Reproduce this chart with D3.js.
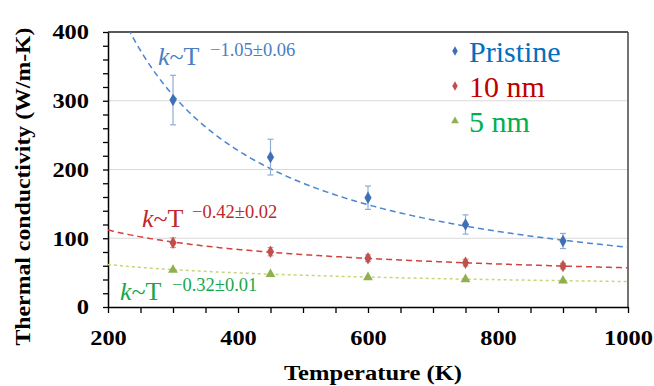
<!DOCTYPE html>
<html>
<head>
<meta charset="utf-8">
<script src="https://cdn.jsdelivr.net/npm/d3@7"></script>
<style>
  body { margin: 0; background: #fff; }
  svg text { font-family: "Liberation Serif", "DejaVu Serif", serif !important; }
  .tick text { font-weight: bold; font-size: 21px; fill: #000; }
</style>
</head>
<body>
<div id="chart"></div>
<script>

// measured temperatures (K)
var temps = [300, 450, 600, 750, 900];

// thermal conductivity values + error bars
var pristine = [301, 218, 159, 120, 96];
var pristineErr = [36, 26, 17, 14, 11];
var nm10 = [93.5, 80.5, 71, 64.5, 59.5];
var nm10Err = [7, 6, 5, 5, 4];
var nm5 = [53.8, 47.6, 43.2, 40.3, 38.3];

// power law fits  k = k1000 * (T/1000)^-p
var fitNames = ["Pristine", "10 nm", "5 nm"];
var fitExponents = [1.05, 0.42, 0.32];
var fitAt1000 = [87, 57, 37];
var fitLabels = ["\u22121.05\u00b10.06", "\u22120.42\u00b10.02", "\u22120.32\u00b10.01"];

var xTicks = [200, 400, 600, 800, 1000];
var yTicks = [0, 100, 200, 300, 400];

var SERIF = "'Liberation Serif', 'DejaVu Serif', serif";

var W = 654, H = 386;
var margin = {top: 32, right: 26, bottom: 79, left: 108};
var width = W - margin.left - margin.right,
    height = H - margin.top - margin.bottom;

var svg = d3.select("#chart").append("svg")
    .attr("width", W)
    .attr("height", H);

var g = svg.append("g")
    .attr("transform", "translate(" + margin.left + "," + margin.top + ")");

var x = d3.scaleLinear().domain([200, 1000]).range([0, width]);
var y = d3.scaleLinear().domain([0, 400]).range([height, 0]);

// gridlines
g.selectAll(".grid")
    .data([100, 200, 300])
    .enter().append("line")
    .attr("class", "grid")
    .attr("x1", 0).attr("x2", width)
    .attr("y1", function(d){ return y(d); })
    .attr("y2", function(d){ return y(d); })
    .attr("stroke", "#d9d9d9")
    .attr("stroke-width", 1);

// frame top + right
g.append("line").attr("x1", 0).attr("x2", width).attr("y1", 0).attr("y2", 0)
    .attr("stroke", "#222").attr("stroke-width", 1.5);
g.append("line").attr("x1", width).attr("x2", width).attr("y1", 0).attr("y2", height)
    .attr("stroke", "#444").attr("stroke-width", 1.5);

// axes
var xAxis = g.append("g")
    .attr("class", "x-axis")
    .attr("transform", "translate(0," + height + ")")
    .call(d3.axisBottom(x).tickValues(d3.range(200, 1001, 50)).tickSize(6).tickSizeOuter(0)
        .tickFormat(function(d){ return xTicks.indexOf(d) >= 0 ? d : ""; }));
xAxis.select(".domain").attr("stroke", "#000").attr("stroke-width", 1.5);
xAxis.selectAll(".tick line").attr("stroke", "#000").attr("stroke-width", 1.3);
xAxis.selectAll(".tick text").attr("y", 23).attr("dy", "0.71em");

var yAxis = g.append("g")
    .attr("class", "y-axis")
    .call(d3.axisLeft(y).tickValues(d3.range(0, 401, 20)).tickSize(5).tickSizeOuter(0)
        .tickFormat(function(d){ return yTicks.indexOf(d) >= 0 ? d : ""; }));
yAxis.select(".domain").attr("stroke", "#000").attr("stroke-width", 1.5);
yAxis.selectAll(".tick line").attr("stroke", "#000").attr("stroke-width", 1.3);
yAxis.selectAll(".tick text").attr("x", -19).attr("dy", "0.33em");

svg.selectAll(".x-axis, .y-axis").attr("font-family", SERIF);

// widen tick labels a little like the original
svg.selectAll(".tick text").each(function(){
    var t = d3.select(this);
    if (t.text() != "") {
        t.attr("textLength", t.text().length * 12.2).attr("lengthAdjust", "spacingAndGlyphs");
    }
});

// axis titles
svg.append("text")
    .attr("transform", "translate(30," + (margin.top + height / 2 + 17) + ") rotate(-90)")
    .attr("text-anchor", "middle")
    .attr("font-family", SERIF)
    .attr("font-weight", "bold")
    .attr("font-size", "21px")
    .attr("textLength", 318)
    .attr("lengthAdjust", "spacingAndGlyphs")
    .text("Thermal conductivity (W/m-K)");

svg.append("text")
    .attr("x", 373)
    .attr("y", 380)
    .attr("text-anchor", "middle")
    .attr("font-family", SERIF)
    .attr("font-weight", "bold")
    .attr("font-size", "20px")
    .attr("textLength", 178)
    .attr("lengthAdjust", "spacingAndGlyphs")
    .text("Temperature (K)");

// fit curves
svg.append("clipPath").attr("id", "plotclip")
    .append("rect").attr("x", 0).attr("y", 0).attr("width", width).attr("height", height);

var fitColors = ["#4a86d0", "#d0433f", "#c6d67a"];
var fitDash = ["6,4", "6,4", "3,3"];
var Tgrid = d3.range(200, 1001, 4);

var line = d3.line()
    .x(function(d){ return x(d[0]); })
    .y(function(d){ return y(d[1]); });

fitNames.forEach(function(name, i){
    var pts = Tgrid.map(function(T){
        return [T, fitAt1000[i] * Math.pow(T / 1000, -fitExponents[i])];
    });
    g.append("path")
        .datum(pts)
        .attr("clip-path", "url(#plotclip)")
        .attr("d", line)
        .attr("fill", "none")
        .attr("stroke", fitColors[i])
        .attr("stroke-width", 1.5)
        .attr("stroke-dasharray", fitDash[i]);
});

// error bars
function errorBars(vals, errs, color){
    var eb = g.append("g");
    temps.forEach(function(T, i){
        var cx = x(T), y0 = y(vals[i] - errs[i]), y1 = y(vals[i] + errs[i]);
        eb.append("line").attr("x1", cx).attr("x2", cx).attr("y1", y0).attr("y2", y1);
        eb.append("line").attr("x1", cx - 3).attr("x2", cx + 3).attr("y1", y0).attr("y2", y0);
        eb.append("line").attr("x1", cx - 3).attr("x2", cx + 3).attr("y1", y1).attr("y2", y1);
    });
    eb.selectAll("line").attr("stroke", color).attr("stroke-width", 1.2);
}
errorBars(pristine, pristineErr, "#92acd6");
errorBars(nm10, nm10Err, "#dc9a98");

// markers
var diamond = d3.symbol().type(d3.symbolDiamond).size(45);
var tri = d3.symbol().type(d3.symbolTriangle).size(42);

function markers(vals, sym, color){
    g.append("g").selectAll("path")
        .data(vals)
        .enter().append("path")
        .attr("d", sym)
        .attr("transform", function(d, i){ return "translate(" + x(temps[i]) + "," + y(d) + ")"; })
        .attr("fill", color);
}
markers(pristine, diamond, "#3f6fb6");
markers(nm10, diamond, "#c0504d");
markers(nm5, tri, "#8fb04f");

// power law annotations
var annColors = ["#4a7ec4", "#c0262d", "#1aa64a"];
var annPos = [[158, 65], [142, 227], [120, 300]];
var supShift = [52, 50, 52];

fitLabels.forEach(function(lab, i){
    var t = svg.append("text")
        .attr("x", annPos[i][0])
        .attr("y", annPos[i][1])
        .attr("fill", annColors[i])
        .attr("font-family", SERIF)
        .attr("font-size", "26px");
    t.append("tspan").attr("font-style", "italic").text("k");
    t.append("tspan").text("~T");
    svg.append("text")
        .attr("x", annPos[i][0] + supShift[i])
        .attr("y", annPos[i][1] - 9)
        .attr("fill", annColors[i])
        .attr("font-family", SERIF)
        .attr("font-size", "18.5px")
        .text(lab);
});

// legend
var legColors = ["#0070c0", "#c00000", "#00b050"];
var legMarkColors = ["#3f6fb6", "#c0504d", "#8fb04f"];
var legY = [51, 86, 121];

fitNames.forEach(function(name, i){
    svg.append("path")
        .attr("d", (i < 2 ? d3.symbol().type(d3.symbolDiamond).size(26) : d3.symbol().type(d3.symbolTriangle).size(26)))
        .attr("transform", "translate(455," + legY[i] + ")")
        .attr("fill", legMarkColors[i]);
    svg.append("text")
        .attr("x", 469)
        .attr("y", legY[i] + 11)
        .attr("fill", legColors[i])
        .attr("font-family", SERIF)
        .attr("font-size", "30px")
        .text(name);
});

</script>
</body>
</html>
